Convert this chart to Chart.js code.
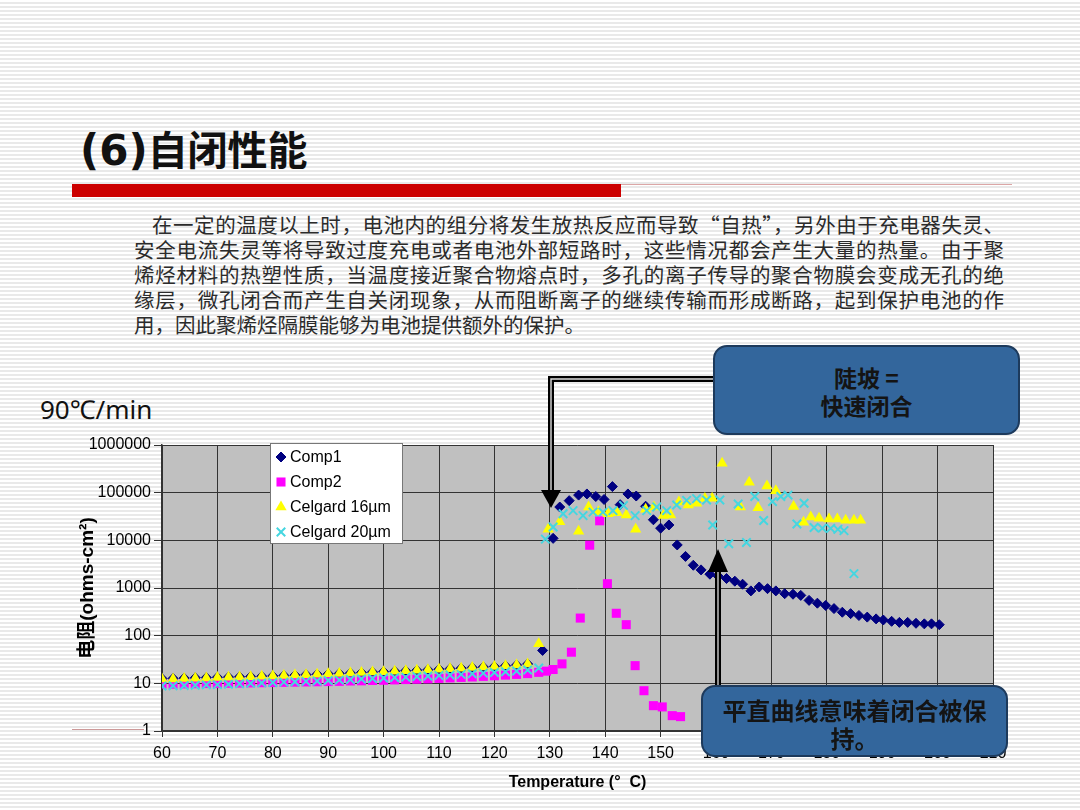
<!DOCTYPE html>
<html>
<head>
<meta charset="utf-8">
<script src="https://cdn.jsdelivr.net/npm/chart.js@4.4.1/dist/chart.umd.min.js"></script>
<style>
html, body { margin: 0; padding: 0; }
body {
  width: 1080px; height: 810px; position: relative; overflow: hidden;
  background: repeating-linear-gradient(to bottom, #fff 0, #fff 2px, #e9e9e9 2px, #e9e9e9 4px);
  font-family: "Noto Sans CJK SC", sans-serif;
}
#title { position: absolute; left: 80px; top: 118px; font-size: 40px; font-weight: bold; color: #111; line-height: 60px; white-space: nowrap; }
#title .n { font-family: "DejaVu Sans"; font-size: 42px; }
#bar { position: absolute; left: 72px; top: 184px; width: 549px; height: 13px; background: #cc0000; }
#rule { position: absolute; left: 621px; top: 184px; width: 391px; height: 1px; background: #dba6a6; }
#foot { position: absolute; left: 72px; top: 729px; width: 72px; height: 1px; background: #c99; }
#text { position: absolute; left: 134px; top: 212px; width: 870px; font-size: 20.5px; line-height: 25px; color: #2b2b2b; }
#text div { text-align: justify; text-align-last: justify; }
#text div.first { padding-left: 18px; }
#text div.last { text-align-last: left; }
#rate { position: absolute; left: 40px; top: 391px; font-family: "Noto Sans", sans-serif; font-size: 26px; color: #111; white-space: nowrap; }
#wrap { position: absolute; left: 0; top: 430px; width: 1080px; height: 380px; }
#arrows { position: absolute; left: 0; top: 0; }
.call { position: absolute; box-sizing: border-box; background: #33669c; border: 2px solid #1d3a5c; border-radius: 14px; color: #141414; font-weight: bold; text-align: center; line-height: 28px; }
#c1 { left: 713px; top: 345px; width: 307px; height: 90px; font-size: 23px; padding-top: 16px; }
#c2 { left: 701px; top: 685px; width: 307px; height: 72px; font-size: 24px; padding-top: 9px; }
</style>
</head>
<body>
<div id="title"><span class="n">(6)</span>自闭性能</div>
<div id="bar"></div>
<div id="rule"></div>
<div id="text">
  <div class="first">在一定的温度以上时，电池内的组分将发生放热反应而导致“自热”，另外由于充电器失灵、</div>
  <div>安全电流失灵等将导致过度充电或者电池外部短路时，这些情况都会产生大量的热量。由于聚</div>
  <div>烯烃材料的热塑性质，当温度接近聚合物熔点时，多孔的离子传导的聚合物膜会变成无孔的绝</div>
  <div>缘层，微孔闭合而产生自关闭现象，从而阻断离子的继续传输而形成断路，起到保护电池的作</div>
  <div class="last">用，因此聚烯烃隔膜能够为电池提供额外的保护。</div>
</div>
<div id="rate">90℃/min</div>
<div id="foot"></div>
<div id="wrap"><canvas id="chart" width="1080" height="380"></canvas></div>
<svg id="arrows" width="1080" height="810">
  <path d="M713 379 H551 V492" fill="none" stroke="#000" stroke-width="6"/>
  <path d="M713 379 H551 V492" fill="none" stroke="#ddd" stroke-width="1.4"/>
  <polygon points="541,490 561,490 551,508" fill="#000"/>
  <path d="M718 686 V570" fill="none" stroke="#000" stroke-width="6"/>
  <path d="M718 686 V570" fill="none" stroke="#ccc" stroke-width="1.4"/>
  <polygon points="708,572 728,572 718,549" fill="#000"/>
</svg>
<div class="call" id="c1">陡坡 =<br>快速闭合</div>
<div class="call" id="c2">平直曲线意味着闭合被保<br>持。</div>

<script>
// Comp1
const comp1T = [60, 62, 64, 66, 68, 70, 72, 74, 76, 78, 80, 82, 84, 86, 88, 90, 92, 94, 96, 98,
  100, 102, 104, 106, 108, 110, 112, 114, 116, 118, 120, 122, 124, 126, 128.7,
  130.6, 131.8, 133.5, 135.2, 136.7, 138.3, 139.8, 141.3, 142.7, 144.1, 145.6, 147.3, 148.7,
  150.0, 151.5, 153.0, 154.5, 155.9, 157.3, 158.9, 160.4, 161.9, 163.4, 164.8, 166.3, 167.8,
  169.3, 170.8, 172.4, 173.9, 175.3, 176.8, 178.3, 179.8, 181.3, 182.8, 184.3, 185.8, 187.3,
  188.9, 190.2, 191.7, 193.1, 194.6, 196.1, 197.6, 198.9, 200.3];
const comp1R = [12.6, 12.7, 12.9, 13.1, 13.2, 13.4, 13.5, 13.7, 13.9, 14.1, 14.3, 14.6, 14.9, 15.2, 15.5, 15.8, 16.1, 16.4, 16.8, 17.2,
  17.6, 18.0, 18.4, 18.8, 19.3, 19.8, 20.3, 20.8, 21.4, 22.0, 22.6, 23.3, 24.2, 25.5, 49,
  11000, 50000, 68000, 89000, 94000, 83000, 72000, 134000, 56000, 94000, 85000, 52000, 27000,
  18000, 21000, 8000, 4600, 3000, 2400, 1950, 1770, 1580, 1390, 1200, 870, 1050,
  970, 870, 760, 740, 700, 550, 480, 430, 370, 310, 290, 265, 245,
  225, 213, 200, 190, 190, 182, 177, 177, 170];

// Comp2
const comp2T = [60, 62, 64, 66, 68, 70, 72, 74, 76, 78, 80, 82, 84, 86, 88, 90, 92, 94, 96, 98,
  100, 102, 104, 106, 108, 110, 112, 114, 116, 118, 120, 122, 124, 126, 128,
  129.4, 130.6, 132.2, 133.9, 135.5, 137.2, 139.0, 140.4, 142.0, 143.8, 145.4, 147.0, 148.7,
  150.3, 152.1, 153.6];
const comp2R = [9.6, 9.6, 9.7, 9.8, 9.9, 9.9, 10.0, 10.1, 10.2, 10.3, 10.4, 10.5, 10.6, 10.7, 10.8, 10.9, 11.0, 11.2, 11.3, 11.5,
  11.6, 11.8, 12.0, 12.2, 12.4, 12.7, 13.0, 13.3, 13.6, 14.0, 14.4, 14.9, 15.4, 16.0, 17.0,
  18, 19.5, 25.6, 45, 234, 7900, 25700, 1230, 295, 170, 23.5, 7.0, 3.4,
  3.2, 2.1, 2.0];

// Celgard 16µm
const c16T = [60, 62, 64, 66, 68, 70, 72, 74, 76, 78, 80, 82, 84, 86, 88, 90, 92, 94, 96, 98,
  100, 102, 104, 106, 108, 110, 112, 114, 116, 118, 120, 122, 124, 126, 128,
  129.7, 131.8, 135.2, 137.0, 138.8, 140.5, 142.2, 143.8, 145.5, 147.3, 148.8, 150.5, 151.8,
  153.3, 155.0, 156.5, 158.0, 159.3, 161.1, 164.4, 166.0, 167.6, 169.2, 170.8, 174.0, 175.8,
  177.1, 178.6, 180.4, 181.9, 183.4, 184.9, 186.1];
const c16R = [12.3, 12.4, 12.6, 12.8, 13.0, 13.2, 13.4, 13.6, 13.8, 14.0, 14.3, 14.6, 14.9, 15.2, 15.5, 15.8, 16.1, 16.4, 16.8, 17.2,
  17.6, 18.0, 18.4, 18.8, 19.3, 19.8, 20.3, 20.8, 21.4, 22.0, 22.6, 23.3, 24.2, 25.5, 68,
  17000, 24500, 15600, 50000, 40000, 36000, 38000, 34000, 17000, 45000, 50000, 33000, 34000,
  64000, 55000, 60000, 75000, 76000, 415000, 50000, 165000, 48000, 138000, 110000, 51000, 24000,
  31000, 29000, 28000, 28000, 26500, 26500, 26500];

// Celgard 20µm
const c20T = [60, 62, 64, 66, 68, 70, 72, 74, 76, 78, 80, 82, 84, 86, 88, 90, 92, 94, 96, 98,
  100, 102, 104, 106, 108, 110, 112, 114, 116, 118, 120, 122, 124, 126, 128,
  129.2, 130.6, 132.4, 134.2, 136.0, 137.8, 139.6, 141.4, 143.3, 145.4, 147.5, 149.3, 151.1,
  152.9, 154.7, 156.5, 158.3, 159.4, 160.7, 162.3, 164.0, 165.5, 167.0, 168.6, 170.2, 171.7,
  173.0, 174.6, 175.9, 177.7, 179.2, 180.7, 182.0, 183.1, 184.9];
const c20R = [8.8, 8.9, 9.0, 9.1, 9.3, 9.4, 9.6, 9.8, 10.0, 10.2, 10.4, 10.6, 10.8, 11.0, 11.2, 11.5, 11.7, 12.0, 12.3, 12.6,
  12.9, 13.2, 13.5, 13.9, 14.2, 14.6, 15.0, 15.4, 15.9, 16.4, 16.9, 17.5, 18.2, 19.0, 21,
  10600, 19000, 36000, 42000, 33000, 39000, 39000, 42000, 54000, 33000, 42000, 50000, 42000,
  55000, 69000, 75000, 70000, 21000, 70000, 8500, 58000, 9000, 83000, 26000, 65000, 83000,
  89000, 22000, 60000, 18600, 18000, 17800, 17000, 16000, 2000];

const xMin = 60, xMax = 210, xStep = 10;
const yTicks = [1, 10, 100, 1000, 10000, 100000, 1000000];

const pts = (t, r) => t.map((x, i) => ({ x: x, y: r[i] }));
const tickFont = { family: 'Liberation Sans, Arial, sans-serif', size: 16 };

const plotBg = {
  id: 'plotBg',
  beforeDraw(c) {
    const { ctx, chartArea: a } = c;
    ctx.save();
    ctx.fillStyle = '#c0c0c0';
    ctx.fillRect(a.left, a.top, a.width, a.height);
    ctx.restore();
  }
};

// legend sits inside the plot, white box like the original
const boxLegend = {
  id: 'boxLegend',
  afterDraw(c) {
    const { ctx, chartArea: a } = c;
    const x0 = a.left + 108, y0 = a.top - 2, w = 132, h = 100;
    ctx.save();
    ctx.fillStyle = '#fff';
    ctx.fillRect(x0, y0, w, h);
    ctx.strokeStyle = '#777';
    ctx.lineWidth = 1;
    ctx.strokeRect(x0 + 0.5, y0 + 0.5, w, h);
    c.data.datasets.forEach((d, i) => {
      const y = y0 + 14 + i * 25;
      ctx.fillStyle = d.backgroundColor;
      ctx.strokeStyle = d.borderColor;
      ctx.lineWidth = d.borderWidth;
      Chart.helpers.drawPoint(ctx, { pointStyle: d.pointStyle, radius: d.pointRadius, borderWidth: d.borderWidth, rotation: 0 }, x0 + 11, y);
      ctx.fillStyle = '#000';
      ctx.font = '16px "Liberation Sans", Arial, sans-serif';
      ctx.textBaseline = 'middle';
      ctx.fillText(d.label, x0 + 20, y + 1);
    });
    ctx.restore();
  }
};

new Chart(document.getElementById('chart'), {
  type: 'scatter',
  data: {
    datasets: [
      { label: 'Comp1', data: pts(comp1T, comp1R), pointStyle: 'rectRot', pointRadius: 5,
        backgroundColor: '#000080', borderColor: '#000080', borderWidth: 1, order: 4 },
      { label: 'Comp2', data: pts(comp2T, comp2R), pointStyle: 'rect', pointRadius: 6.4,
        backgroundColor: '#ff00ff', borderColor: '#ff00ff', borderWidth: 0, order: 3 },
      { label: 'Celgard 16µm', data: pts(c16T, c16R), pointStyle: 'triangle', pointRadius: 6.5,
        backgroundColor: '#ffff00', borderColor: '#ffff00', borderWidth: 0, order: 2 },
      { label: 'Celgard 20µm', data: pts(c20T, c20R), pointStyle: 'crossRot', pointRadius: 6,
        backgroundColor: '#45d6e0', borderColor: '#45d6e0', borderWidth: 2, order: 1 }
    ]
  },
  options: {
    responsive: false,
    animation: false,
    devicePixelRatio: 1,
    layout: { padding: { left: 60, right: 87, top: 15, bottom: 0 } },
    plugins: { legend: { display: false }, tooltip: { enabled: false } },
    scales: {
      x: {
        type: 'linear', min: xMin, max: xMax,
        ticks: { stepSize: xStep, color: '#000', font: tickFont, padding: 7, maxRotation: 0, autoSkip: false },
        grid: { color: '#333', lineWidth: 1, tickLength: 6 },
        border: { color: '#333', width: 1.5 },
        title: { display: true, text: 'Temperature (°  C)', color: '#000',
          font: { family: 'Liberation Sans, Arial, sans-serif', size: 16, weight: 'bold' }, padding: { bottom: 18 } },
        afterFit(s) { s.height = 79; }
      },
      y: {
        type: 'logarithmic', min: yTicks[0], max: yTicks[yTicks.length - 1],
        afterBuildTicks(s) { s.ticks = yTicks.map(v => ({ value: v })); },
        ticks: { color: '#000', font: tickFont, padding: 3, callback: v => String(v) },
        grid: { color: '#333', lineWidth: 1, tickLength: 8 },
        border: { color: '#333', width: 1.5 },
        title: { display: true, text: '电阻(ohms-cm²)', color: '#000',
          font: { family: 'Liberation Sans, "Noto Sans CJK SC", sans-serif', size: 19, weight: 'bold' }, padding: { top: 16 } },
        afterFit(s) { s.width = 102; }
      }
    }
  },
  plugins: [plotBg, boxLegend]
});
</script>
</body>
</html>
